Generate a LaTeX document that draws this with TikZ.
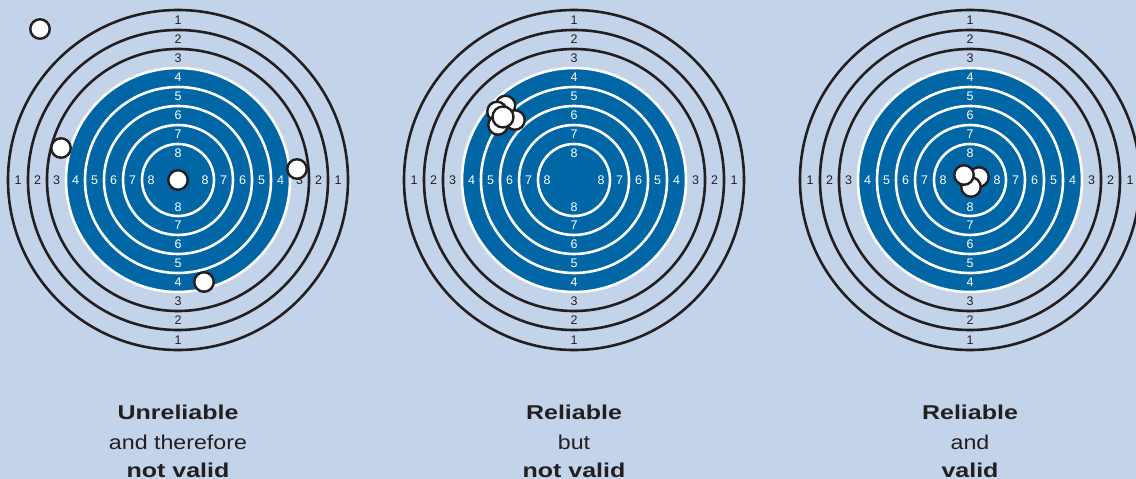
\documentclass[tikz,border=0pt]{standalone}
\usepackage{fontspec}
\setmainfont{Liberation Sans}
\newfontfamily\capreg[FakeStretch=1.16]{Liberation Sans}
\newfontfamily\capbold[FakeStretch=1.25]{Liberation Sans}
\definecolor{bg}{HTML}{C3D3E9}
\definecolor{tblue}{HTML}{0066A6}
\definecolor{ink}{HTML}{231F20}
\begin{document}
\begin{tikzpicture}[x=1pt,y=-1pt,
  blackring/.style={draw=ink,line width=2.6pt},
  whitering/.style={draw=white,line width=2.6pt},
  disk/.style={fill=tblue,draw=white,line width=2.6pt},
  lbl/.style={font=\fontsize{12.5}{12.5}\selectfont,inner sep=0pt},
  hit/.style={circle,draw=ink,fill=white,line width=2.4pt,minimum size=19.5pt,inner sep=0pt},
  capr/.style={font=\capreg\fontsize{20}{30}\selectfont,text=ink,anchor=base,inner sep=0pt},
  capb/.style={font=\capbold\bfseries\fontsize{20}{30}\selectfont,text=ink,anchor=base,inner sep=0pt}]
\useasboundingbox (0,0) rectangle (1136,479);
\fill[bg] (0,0) rectangle (1136,479);
\clip (0,0) rectangle (1136,479);
\foreach \cx/\t in {178/A,574/B,970/C}{
  \draw[blackring] (\cx,180) circle[radius=170pt];
  \draw[blackring] (\cx,180) circle[radius=150pt];
  \draw[blackring] (\cx,180) circle[radius=131pt];
  \draw[disk] (\cx,180) circle[radius=112pt];
  \foreach \r in {93,74,55,36}{
    \draw[whitering] (\cx,180) circle[radius=\r pt];
  }
  \foreach \k/\r/\c in {1/160/ink,2/140.5/ink,3/121.5/ink,4/102.5/white,5/83.5/white,6/64.5/white,7/45.5/white,8/27/white}{
    \node[lbl,text=\c] (\t-\k-t) at (\cx,180-\r) {\k};
    \node[lbl,text=\c] (\t-\k-b) at (\cx,180+\r) {\k};
    \node[lbl,text=\c] (\t-\k-l) at (\cx-\r,180) {\k};
    \node[lbl,text=\c] (\t-\k-r) at (\cx+\r,180) {\k};
  }
}
% target A hits
\node[hit] (A-h1) at (40,29) {};
\node[hit] (A-h2) at (61,148) {};
\node[hit] (A-h3) at (297,169) {};
\node[hit] (A-h4) at (204,282) {};
\node[hit] (A-h5) at (178,180) {};
% target B hits
\node[hit] (B-h1) at (505.5,105.5) {};
\node[hit] (B-h2) at (497,111.5) {};
\node[hit] (B-h3) at (515,120) {};
\node[hit] (B-h4) at (498,125) {};
\node[hit,minimum size=21pt] (B-h5) at (503,117) {};
% target C hits
\node[hit] (C-h1) at (979,177) {};
\node[hit] (C-h2) at (971,187) {};
\node[hit] (C-h3) at (964,175) {};
% captions
\node[capb] (A-c1) at (178,419) {Unreliable};
\node[capr] (A-c2) at (178,449) {and therefore};
\node[capb] (A-c3) at (178,477) {not valid};
\node[capb] (B-c1) at (574,419) {Reliable};
\node[capr] (B-c2) at (574,449) {but};
\node[capb] (B-c3) at (574,477) {not valid};
\node[capb] (C-c1) at (970,419) {Reliable};
\node[capr] (C-c2) at (970,449) {and};
\node[capb] (C-c3) at (970,477) {valid};
\end{tikzpicture}
\end{document}
